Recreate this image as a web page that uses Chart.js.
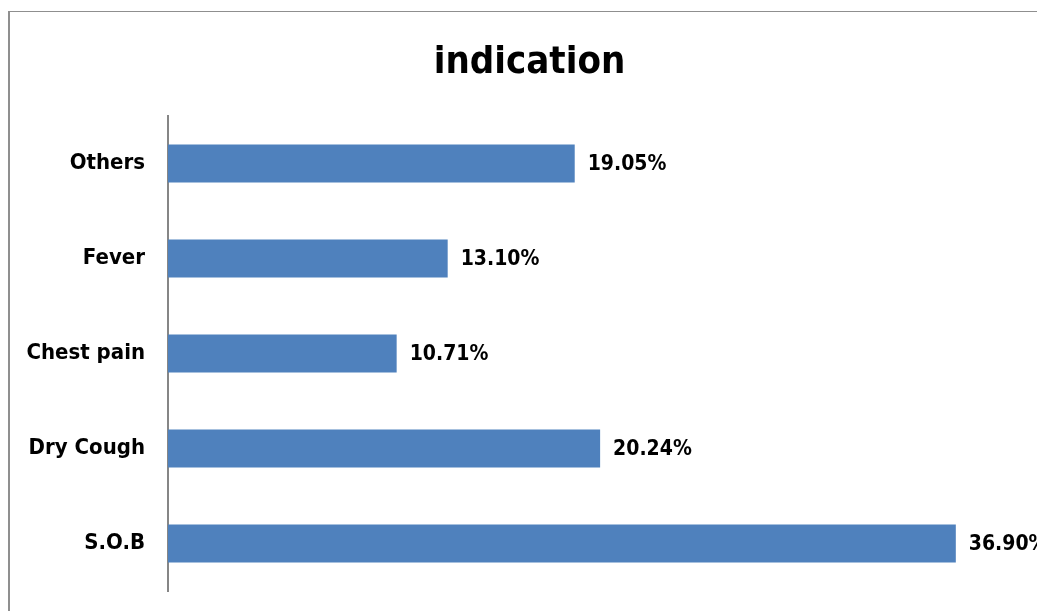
<!DOCTYPE html>
<html>
<head>
<meta charset="utf-8">
<script src="https://cdn.jsdelivr.net/npm/chart.js@4"></script>
<style>
  html, body { margin: 0; padding: 0; background: #fff; overflow: hidden; }
  #box {
    position: absolute; left: 8px; top: 11px;
    border-left: 2px solid #8f8f8f; border-top: 1px solid #8f8f8f;
    width: 1039px; height: 620px;
  }
</style>
</head>
<body>
<div id="box"><canvas id="indicationChart" width="1039" height="620"></canvas></div>
<script>
// data
var categories = ["Others", "Fever", "Chest pain", "Dry Cough", "S.O.B"];
var percents = [19.05, 13.10, 10.71, 20.24, 36.90];
var chartTitle = "indication";

var FONT = '"Liberation Sans Narrow", "DejaVu Sans Condensed", sans-serif';

// title + value labels drawn on top
var labelsPlugin = {
    id: "labelsPlugin",
    afterDatasetsDraw: function (chart) {
        var ctx = chart.ctx;
        ctx.save();
        ctx.fillStyle = "#000";
        ctx.font = "bold 38px " + FONT;
        ctx.textAlign = "center";
        ctx.textBaseline = "alphabetic";
        ctx.fillText(chartTitle, chart.width / 2, 61);

        ctx.font = "bold 21px " + FONT;
        ctx.textAlign = "left";
        ctx.textBaseline = "middle";
        var meta = chart.getDatasetMeta(0);
        meta.data.forEach(function (bar, i) {
            ctx.fillText(percents[i].toFixed(2) + "%", bar.x + 13, bar.y + 1);
        });
        ctx.restore();
    }
};

var ctx = document.getElementById("indicationChart").getContext("2d");
var chart = new Chart(ctx, {
    type: "bar",
    data: {
        labels: categories,
        datasets: [{
            label: "indication",
            data: percents,
            backgroundColor: "#4f81bd",
            borderWidth: 0,
            barPercentage: 0.4,
            categoryPercentage: 1
        }]
    },
    options: {
        indexAxis: "y",
        responsive: false,
        animation: false,
        layout: { padding: { top: 104, bottom: 41, left: 0, right: 27 } },
        plugins: {
            legend: { display: false },
            title: { display: false },
            tooltip: { enabled: false }
        },
        scales: {
            x: {
                display: false,
                min: 0,
                max: 40
            },
            y: {
                grid: { display: false, drawTicks: false },
                border: { display: true, color: "#868686", width: 2 },
                ticks: {
                    color: "#000",
                    padding: 23,
                    font: { family: FONT, size: 22, weight: "bold" }
                },
                afterFit: function (scale) { scale.width = 158; }
            }
        }
    },
    plugins: [labelsPlugin]
});
</script>
</body>
</html>
